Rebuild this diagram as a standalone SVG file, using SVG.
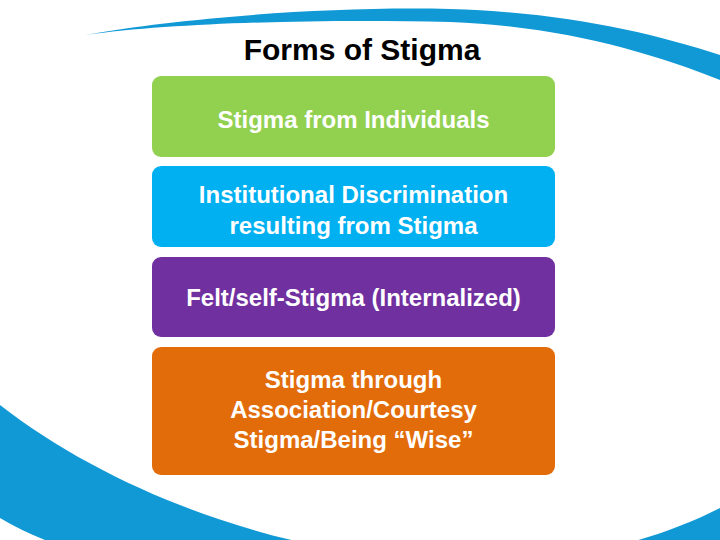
<svg xmlns="http://www.w3.org/2000/svg" width="720" height="540" viewBox="0 0 720 540">
<style>
.box{stroke:none}
.lbl{font-family:"Liberation Sans",Arial,sans-serif;font-weight:bold;font-size:24px;fill:#ffffff;text-anchor:middle}
.title{font-family:"Liberation Sans",Arial,sans-serif;font-weight:bold;font-size:30px;fill:#000000;text-anchor:middle}
.swoosh{fill:#1199D6}
</style>
<rect width="720" height="540" fill="#ffffff"/>
<g id="decor">
<path class="swoosh" d="M85,35 C180,18 330,6 450,9 C560,12 650,32 720,55 L720,80 C650,52 560,26 450,22 C330,19 180,22 85,35 Z"/>
<path class="swoosh" d="M0,405 C180,545 500,620 720,508 L720,540 L0,540 Z"/>
<path d="M0,518 Q20,530 45,540 L0,540 Z" fill="#ffffff"/>
</g>
<text class="title" x="362" y="60">Forms of Stigma</text>
<g id="node1">
<rect class="box" x="152" y="76" width="403" height="81" rx="9" fill="#92D050"/>
<text class="lbl" x="353.5" y="128">Stigma from Individuals</text>
</g>
<g id="node2">
<rect class="box" x="152" y="166" width="403" height="81" rx="9" fill="#00B0F0"/>
<text class="lbl" x="353.5" y="203">Institutional Discrimination</text>
<text class="lbl" x="353.5" y="234">resulting from Stigma</text>
</g>
<g id="node3">
<rect class="box" x="152" y="257" width="403" height="80" rx="9" fill="#7030A0"/>
<text class="lbl" x="353.5" y="306">Felt/self-Stigma (Internalized)</text>
</g>
<g id="node4">
<rect class="box" x="152" y="347" width="403" height="128" rx="9" fill="#E36C0A"/>
<text class="lbl" x="353.5" y="388">Stigma through</text>
<text class="lbl" x="353.5" y="418">Association/Courtesy</text>
<text class="lbl" x="353.5" y="448">Stigma/Being “Wise”</text>
</g>
<g id="connectors"></g>
</svg>
